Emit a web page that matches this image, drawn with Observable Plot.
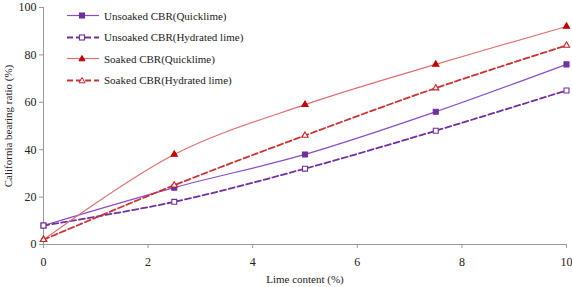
<!DOCTYPE html>
<html>
<head>
<meta charset="utf-8">
<script src="https://cdn.jsdelivr.net/npm/d3@7"></script>
<script src="https://cdn.jsdelivr.net/npm/@observablehq/plot@0.6"></script>
<style>
  html, body { margin: 0; padding: 0; background: #fff; }
  #wrap { position: relative; width: 572px; height: 287px; font-family: "Liberation Serif", "Times New Roman", serif; }
  #legend { position: absolute; left: 66px; top: 5px; font-size: 11px; color: #222; }
  .row { display: flex; align-items: center; height: 21.5px; }
  .row svg { margin-right: 4px; }
  svg text { font-family: "Liberation Serif", "Times New Roman", serif; }
</style>
</head>
<body>
<div id="wrap"><div id="chart"></div><div id="legend"></div></div>
<script>
const limeContent = [0, 2.5, 5, 7.5, 10];
const unsoakedQuicklime = [8, 24, 38, 56, 76];
const unsoakedHydrated = [8, 18, 32, 48, 65];
const soakedQuicklime = [2, 38, 59, 76, 92];
const soakedHydrated = [2, 25, 46, 66, 84];
const xTicks = [0, 2, 4, 6, 8, 10];
const yTicks = [0, 20, 40, 60, 80, 100];

const series = [
  {name: "Unsoaked CBR(Quicklime)", values: unsoakedQuicklime, line: "#8a4cc8", mark: "#7030a0", fill: "#7030a0", dash: null, width: 1.2, symbol: "square"},
  {name: "Unsoaked CBR(Hydrated lime)", values: unsoakedHydrated, line: "#7030a0", mark: "#7030a0", fill: "white", dash: "6,3", width: 1.8, symbol: "square"},
  {name: "Soaked CBR(Quicklime)", values: soakedQuicklime, line: "#e07070", mark: "#c00000", fill: "#c00000", dash: null, width: 1.2, symbol: "triangle"},
  {name: "Soaked CBR(Hydrated lime)", values: soakedHydrated, line: "#cc3333", mark: "#cc2222", fill: "white", dash: "6,3", width: 1.8, symbol: "triangle"}
];

const marks = [];
for (const s of series) {
  const data = limeContent.map((x, i) => ({x, y: s.values[i]}));
  marks.push(Plot.line(data, {x: "x", y: "y", stroke: s.line, strokeWidth: s.width, strokeDasharray: s.dash, curve: "catmull-rom"}));
  marks.push(Plot.dot(data, {x: "x", y: "y", symbol: s.symbol, r: s.symbol === "square" ? 2.8 : 2.3, fill: s.fill, stroke: s.mark, strokeWidth: 1.1}));
}

const chart = Plot.plot({
  width: 572,
  height: 287,
  marginLeft: 43,
  marginRight: 6,
  marginTop: 7,
  marginBottom: 43,
  style: {fontFamily: "'Liberation Serif', 'Times New Roman', serif", fontSize: "12px", color: "#222", background: "white"},
  x: {domain: [0, 10], ticks: xTicks},
  y: {domain: [0, 100], ticks: yTicks},
  marks: [
    Plot.ruleY([0], {stroke: "#999"}),
    Plot.ruleX([0], {stroke: "#999"}),
    Plot.axisX({ticks: xTicks, tickSize: 4, tickPadding: 9, stroke: "#999", fontSize: 12, label: null}),
    Plot.axisX({ticks: [], label: "Lime content (%)", labelAnchor: "center", labelArrow: "none", labelOffset: 38, fontSize: 11}),
    Plot.axisY({ticks: yTicks, tickSize: 4, tickPadding: 3, stroke: "#999", fontSize: 12, label: null}),
    Plot.axisY({ticks: [], label: "California bearing ratio (%)", labelAnchor: "center", labelArrow: "none", labelOffset: 39, fontSize: 11}),
    ...marks
  ]
});
document.getElementById("chart").appendChild(chart);

const legend = document.getElementById("legend");
for (const s of series) {
  const row = document.createElement("div");
  row.className = "row";
  const sym = s.symbol === "square"
    ? `<rect x="13.5" y="4" width="5" height="5" fill="${s.fill}" stroke="${s.mark}" stroke-width="1.1"/>`
    : `<path d="M16,3.5 L19,8.8 L13,8.8 Z" fill="${s.fill}" stroke="${s.mark}" stroke-width="1"/>`;
  row.innerHTML = `<svg width="34" height="13"><line x1="1" y1="6.5" x2="33" y2="6.5" stroke="${s.line}" stroke-width="${s.width}" ${s.dash ? `stroke-dasharray="${s.dash}"` : ""}/>${sym}</svg><span>${s.name}</span>`;
  legend.appendChild(row);
}
</script>
</body>
</html>
